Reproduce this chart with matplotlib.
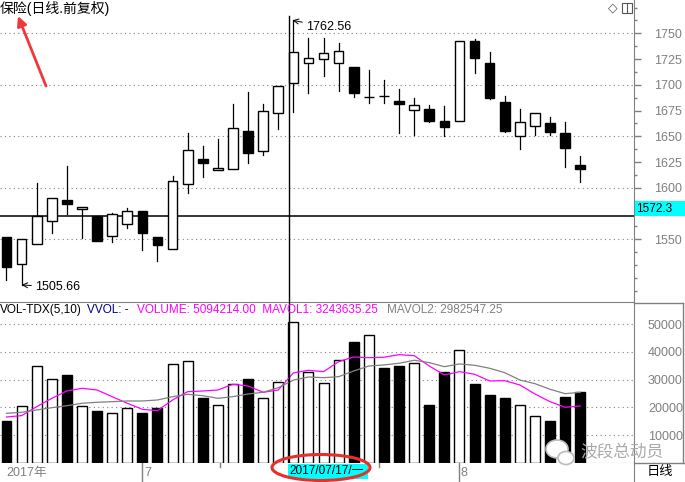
import matplotlib
matplotlib.use("Agg")
import matplotlib.pyplot as plt
from matplotlib.patches import Rectangle, Ellipse
from matplotlib.lines import Line2D
from matplotlib.ticker import MultipleLocator

plt.rcParams["font.family"] = ["Liberation Sans", "Noto Sans CJK SC", "DejaVu Sans"]

# daily candles
opens = [1552.2, 1526.0, 1545.4, 1567.8, 1588.2, 1579.4, 1572.5, 1553.1, 1564.8, 1577.4,
         1552.2, 1540.6, 1603.7, 1628.0, 1617.3, 1618.3, 1655.1, 1635.7, 1672.6, 1701.7,
         1721.2, 1725.0, 1721.2, 1717.3, 1688.1, 1689.2, 1684.3, 1675.5, 1676.5, 1664.8,
         1664.8, 1742.5, 1721.2, 1683.3, 1650.3, 1660.0, 1662.9, 1653.2, 1622.1]
closes = [1523.4, 1550.3, 1572.6, 1590.1, 1584.3, 1581.3, 1548.3, 1574.5, 1577.4, 1556.0,
          1544.4, 1606.6, 1636.7, 1624.1, 1619.2, 1658.1, 1633.8, 1674.6, 1698.8, 1731.8,
          1726.0, 1730.9, 1732.8, 1692.0, 1688.3, 1689.0, 1681.4, 1680.4, 1664.8, 1659.0,
          1742.5, 1726.0, 1687.2, 1655.1, 1663.9, 1672.6, 1654.2, 1638.6, 1618.3]
highs = [1552.2, 1550.3, 1604.7, 1590.1, 1621.2, 1581.3, 1572.5, 1575.4, 1580.3, 1577.4,
         1552.2, 1611.5, 1653.2, 1640.6, 1647.4, 1681.4, 1693.0, 1681.4, 1698.8, 1762.56,
         1745.4, 1745.4, 1740.6, 1717.3, 1714.4, 1704.7, 1696.0, 1687.2, 1680.4, 1679.4,
         1742.5, 1744.5, 1731.8, 1689.1, 1676.5, 1672.6, 1668.7, 1663.9, 1631.0]
lows = [1510.5, 1505.66, 1545.4, 1556.1, 1574.6, 1551.2, 1548.3, 1547.3, 1560.9, 1539.5,
        1528.9, 1540.6, 1595.0, 1610.5, 1617.3, 1618.3, 1624.1, 1631.8, 1657.1, 1673.6,
        1692.0, 1708.5, 1694.0, 1688.2, 1682.3, 1682.3, 1653.2, 1651.3, 1663.9, 1650.3,
        1664.8, 1711.4, 1686.2, 1654.2, 1637.7, 1651.3, 1651.3, 1620.2, 1605.6]
volumes = [15100, 20370, 34830, 30130, 31680, 20370, 18680, 17840, 19650, 17960,
           19760, 35550, 36630, 23370, 20840, 28320, 30240, 23250, 29040, 50940,
           32650, 28680, 36990, 43600, 46020, 34210, 34930, 35900, 20840, 32770,
           40600, 28430, 24460, 23370, 20730, 16760, 15060, 23730, 25540]
mavol1 = [16510, 17000, 20230, 23250, 25900, 26880, 26260, 23850, 21460, 19290,
          18790, 22650, 25650, 25900, 26260, 28320, 27710, 25430, 26260, 32440,
          33380, 32880, 36490, 38190, 37930, 38080, 39020, 38660, 34930, 31680,
          32880, 31940, 29520, 29620, 28070, 24820, 22040, 20010, 20480]
mavol2 = [17840, 18200, 19040, 19870, 20590, 21460, 21820, 22040, 22290, 22290,
          22650, 23850, 24710, 24210, 23250, 23850, 24820, 25430, 27100, 29830,
          30960, 30710, 31070, 33130, 34930, 35300, 35910, 37000, 36130, 34680,
          35660, 35190, 34100, 32510, 29880, 28540, 26520, 24930, 25430]

ref_price = 1572.3
peak_idx, peak_val = 19, 1762.56
low_idx, low_val = 1, 1505.66
cursor_idx = 19
cursor_date = "2017/07/17/一"
month_idx = [9, 30]
month_labels = ["7", "8"]
week_idx = [14.15, 24.7]
price_ticks = [1550, 1575, 1600, 1625, 1650, 1675, 1700, 1725, 1750]
price_grid = [1550, 1600, 1650, 1700, 1750]
vol_ticks = [10000, 20000, 30000, 40000, 50000]
title = "保险(日线.前复权)"
legend_parts = [("VOL-TDX(5,10)", "black", 0), ("VVOL: -", "#000080", 87),
                ("VOLUME: 5094214.00  MAVOL1: 3243635.25", "#ff00ff", 137),
                ("MAVOL2: 2982547.25", "#808080", 387)]

W, H = 685, 482
GREY = "#808080"
DOT = (0, (1, 3))


def fx(px):
    return px / W


def fy(py):
    return 1 - py / H


fig = plt.figure(figsize=(W / 100, H / 100), dpi=100)
n = len(opens)
xlim = (-0.43, 41.56)

ax_p = fig.add_axes([0, fy(302), fx(634), 302 / H])
ax_v = fig.add_axes([0, fy(463), fx(634), (463 - 302) / H])
ax_d = fig.add_axes([0, 0, fx(634), fy(463)])

# price panel
for v in price_grid:
    ax_p.axhline(v, color=GREY, ls=DOT, lw=0.8, zorder=0)
ax_p.axhline(ref_price, color="black", lw=1.1, zorder=1)
for i in range(n):
    o, c, hi, lo = opens[i], closes[i], highs[i], lows[i]
    top, bot = max(o, c), min(o, c)
    ax_p.plot([i, i], [top, hi], color="black", lw=0.9, zorder=2)
    ax_p.plot([i, i], [lo, bot], color="black", lw=0.9, zorder=2)
    ax_p.add_patch(Rectangle((i - 0.32, bot), 0.64, top - bot,
                             facecolor="white" if c >= o else "black",
                             edgecolor="black", lw=1.0, zorder=3))
cx = cursor_idx - 0.28
ax_p.axvline(cx, ymax=1 - 16 / 302, color="black", lw=1.0, zorder=4)
ax_p.annotate(f"{peak_val:.2f}", xy=(peak_idx - 0.05, peak_val), xytext=(10, -5),
              textcoords="offset points", ha="left", va="center", fontsize=9,
              arrowprops=dict(arrowstyle="->", color="black", lw=0.7,
                              shrinkA=1, shrinkB=0))
ax_p.annotate(f"{low_val:.2f}", xy=(low_idx, low_val), xytext=(10, -1.5),
              textcoords="offset points", ha="left", va="center", fontsize=9,
              arrowprops=dict(arrowstyle="->", color="black", lw=0.7,
                              shrinkA=1, shrinkB=0))
ax_p.set_xlim(*xlim)
ax_p.set_ylim(1489.1, 1782.3)
ax_p.yaxis.tick_right()
ax_p.set_yticks(price_ticks)
# the 1575 label sits under the cyan price box, so leave it blank
ax_p.set_yticklabels(["" if t == 1575 else str(t) for t in price_ticks])
ax_p.yaxis.set_minor_locator(MultipleLocator(12.5))
ax_p.tick_params(axis="y", which="major", length=5, width=1, color=GREY,
                 labelcolor=GREY, labelsize=9, pad=9.5)
ax_p.tick_params(axis="y", which="minor", length=2.5, width=1, color=GREY)
ax_p.set_xticks([])
for s in ["top", "left", "bottom"]:
    ax_p.spines[s].set_visible(False)
ax_p.spines["right"].set_color(GREY)

# volume panel
for v in vol_ticks:
    ax_v.axhline(v, color=GREY, ls=DOT, lw=0.8, zorder=0)
xs = list(range(n))
bar_colors = ["white" if closes[i] >= opens[i] else "black" for i in xs]
ax_v.bar(xs, volumes, width=0.66, color=bar_colors, edgecolor="black", lw=1.0, zorder=2)
ax_v.plot(xs, mavol1, color="#ff00ff", lw=0.9, zorder=3)
ax_v.plot(xs, mavol2, color=GREY, lw=0.9, zorder=3)
ax_v.axvline(cx, color="black", lw=1.0, zorder=4)
ax_v.set_xlim(*xlim)
ax_v.set_ylim(-100, 58030)
ax_v.yaxis.tick_right()
ax_v.set_yticks(vol_ticks)
ax_v.tick_params(axis="y", length=0, labelcolor=GREY, labelsize=9, pad=10)
ax_v.set_xticks([])
ax_v.spines["left"].set_visible(False)
for s in ["top", "right", "bottom"]:
    ax_v.spines[s].set_color(GREY)

# date strip
ax_d.set_xlim(*xlim)
ax_d.set_ylim(0, 1)
ax_d.set_xticks([])
ax_d.set_yticks([])
for s in ["top", "left", "bottom"]:
    ax_d.spines[s].set_visible(False)
ax_d.spines["right"].set_color(GREY)
for m, lab in zip(month_idx, month_labels):
    ax_d.plot([m, m], [0.05, 1], color=GREY, lw=1)
    ax_d.text(m + 0.1, 0.45, lab, color=GREY, fontsize=9, va="center", ha="left")
for w in week_idx:
    ax_d.plot([w, w], [0.8, 1], color=GREY, lw=1)
ax_d.text(0, 0.45, "2017年", color=GREY, fontsize=9, va="center", ha="left")

# figure-level decorations
fig.text(0, fy(9), title, fontsize=10, va="center", ha="left")
y_leg = fy(310)
for txt, col, px in legend_parts:
    fig.text(fx(px), y_leg, txt, color=col, fontsize=8.5, va="center", ha="left")

fig.add_artist(Rectangle((fx(635), fy(216)), fx(50), 15 / H, transform=fig.transFigure,
                         facecolor="#00ffff", edgecolor="none", zorder=5))
fig.text(fx(636), fy(208.5), f"{ref_price:.1f}", fontsize=8.5, va="center",
         ha="left", zorder=6)

fig.add_artist(Rectangle((fx(288), fy(479)), fx(80), 15 / H, transform=fig.transFigure,
                         facecolor="#00ffff", edgecolor="none", zorder=5))
fig.text(fx(289), fy(471.5), cursor_date, fontsize=8.5, va="center", ha="left", zorder=6)

for (x0, y0, x1, y1) in [(634, 303, 683, 303), (683, 303, 683, 463), (634, 463, 685, 463)]:
    fig.add_artist(Line2D([fx(x0), fx(x1)], [fy(y0), fy(y1)], color=GREY, lw=1,
                          transform=fig.transFigure))
fig.text(fx(660), fy(472), "日线", fontsize=9.5, va="center", ha="center")

# top-right icons
fig.text(fx(613), fy(8), "◇", fontsize=9, va="center", ha="center", color="#555555",
         family="DejaVu Sans")
fig.add_artist(Rectangle((fx(622), fy(13)), fx(10), 10 / H, transform=fig.transFigure,
                         facecolor="white", edgecolor="#555555", lw=0.8))
fig.add_artist(Line2D([fx(627), fx(627)], [fy(13), fy(3)], color="#555555", lw=0.8,
                      transform=fig.transFigure))

# watermark
for (ex, ey, ew, eh) in [(557, 449, 22, 18), (566, 458, 16, 13)]:
    fig.add_artist(Ellipse((fx(ex), fy(ey)), fx(ew), eh / H, transform=fig.transFigure,
                           facecolor="white", edgecolor="#bbbbbb", lw=1.2, zorder=5))
fig.text(fx(622), fy(452), "波段总动员", fontsize=12, color="#aaaaaa", va="center",
         ha="center", style="italic", zorder=6)

# red callouts
fig.add_artist(Ellipse((fx(321), fy(467.5)), fx(98), 26 / H, transform=fig.transFigure,
                       facecolor="none", edgecolor="#e8302a", lw=2.2, zorder=7))
ax_p.annotate("", xy=(18, H - 16), xytext=(46, H - 86), xycoords="figure pixels",
              textcoords="figure pixels",
              arrowprops=dict(arrowstyle="-|>", color="#f0383a", lw=2,
                              mutation_scale=14, shrinkA=0, shrinkB=0))

fig.savefig("out.png", dpi=100)
